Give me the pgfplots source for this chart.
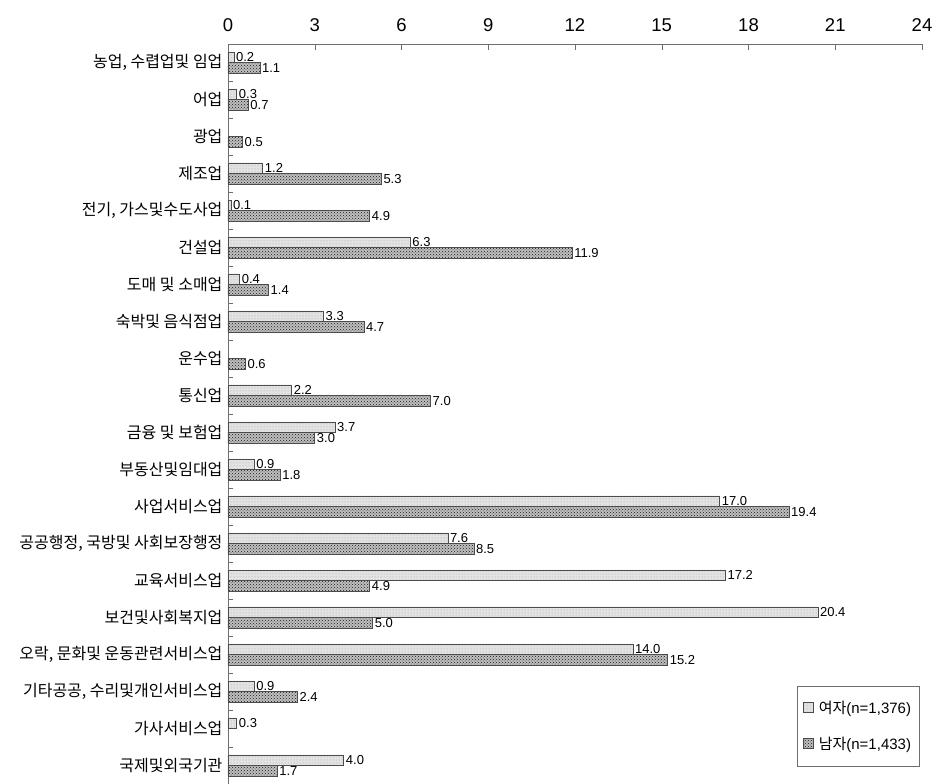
\documentclass[border=0pt]{standalone}
\usepackage{fontspec}
\setmainfont{Liberation Sans}
\newfontfamily\kr{Noto Sans CJK KR}
\usepackage{pgfplots}
\pgfplotsset{compat=1.18}
\usetikzlibrary{patterns}

\definecolor{axisgray}{RGB}{110,110,110}

\begin{document}
\begin{tikzpicture}
\useasboundingbox (-228pt,0pt) rectangle (709pt,784pt);
\begin{axis}[
  at={(0,0)}, anchor=south west,
  scale only axis,
  width=694pt, height=740pt,
  xbar, bar width=10.5pt,
  xmin=0, xmax=24,
  xtick={0,3,...,24},
  ymin=-0.5, ymax=19.5,
  ytick={0,...,19},
  yticklabels={국제및외국기관, 가사서비스업, 기타공공{,} 수리및개인서비스업,
    오락{,} 문화및 운동관련서비스업, 보건및사회복지업, 교육서비스업,
    공공행정{,} 국방및 사회보장행정, 사업서비스업, 부동산및임대업,
    금융 및 보험업, 통신업, 운수업, 숙박및 음식점업, 도매 및 소매업,
    건설업, 전기{,} 가스및수도사업, 제조업, 광업, 어업, 농업{,} 수렵업및 임업},
  minor ytick={0.5,1.5,...,18.5},
  axis x line*=top, axis y line*=left,
  axis line style={-, draw=axisgray},
  tick style={draw=axisgray},
  tick align=inside,
  major tick length=6pt,
  minor tick length=5pt,
  every major y tick/.append style={draw=none},
  xticklabel style={font=\fontsize{18.5}{18.5}\selectfont, yshift=9pt},
  yticklabel style={font=\kr\fontsize{16}{16}\selectfont, xshift=-2pt},
  /pgf/number format/assume math mode=true,
  nodes near coords={\pgfmathprintnumber[fixed,fixed zerofill,precision=1]{\pgfplotspointmeta}},
  nodes near coords style={font=\fontsize{13}{13}\selectfont, anchor=west, inner sep=2pt},
  legend style={at={(axis description cs:0.996,0.024)}, anchor=south east,
    draw=axisgray, font=\fontsize{15}{15}\selectfont,
    row sep=18pt, inner xsep=6pt, inner ysep=13pt},
  legend cell align=left,
  legend image code/.code={\draw[#1] (0pt,-4.5pt) rectangle (10pt,5.5pt);
    \path (13pt,0pt);},
]
% 여자
\addplot[bar shift=5.25pt, draw=black!70, line width=0.5pt,
  fill=gray!22, postaction={pattern=dots, pattern color=gray!75}] coordinates {
  (0.2,19) (0.3,18) (1.2,16) (0.1,15) (6.3,14) (0.4,13) (3.3,12)
  (2.2,10) (3.7,9) (0.9,8) (17.0,7) (7.6,6) (17.2,5) (20.4,4)
  (14.0,3) (0.9,2) (0.3,1) (4.0,0)
};
\addlegendentry{{\kr 여자}(n=1,376)}
% 남자
\addplot[bar shift=-5.25pt, draw=black!70, line width=0.5pt,
  fill=gray!50, postaction={pattern=crosshatch dots, pattern color=black!90}] coordinates {
  (1.1,19) (0.7,18) (0.5,17) (5.3,16) (4.9,15) (11.9,14) (1.4,13)
  (4.7,12) (0.6,11) (7.0,10) (3.0,9) (1.8,8) (19.4,7) (8.5,6)
  (4.9,5) (5.0,4) (15.2,3) (2.4,2) (1.7,0)
};
\addlegendentry{{\kr 남자}(n=1,433)}
\end{axis}
\end{tikzpicture}
\end{document}
